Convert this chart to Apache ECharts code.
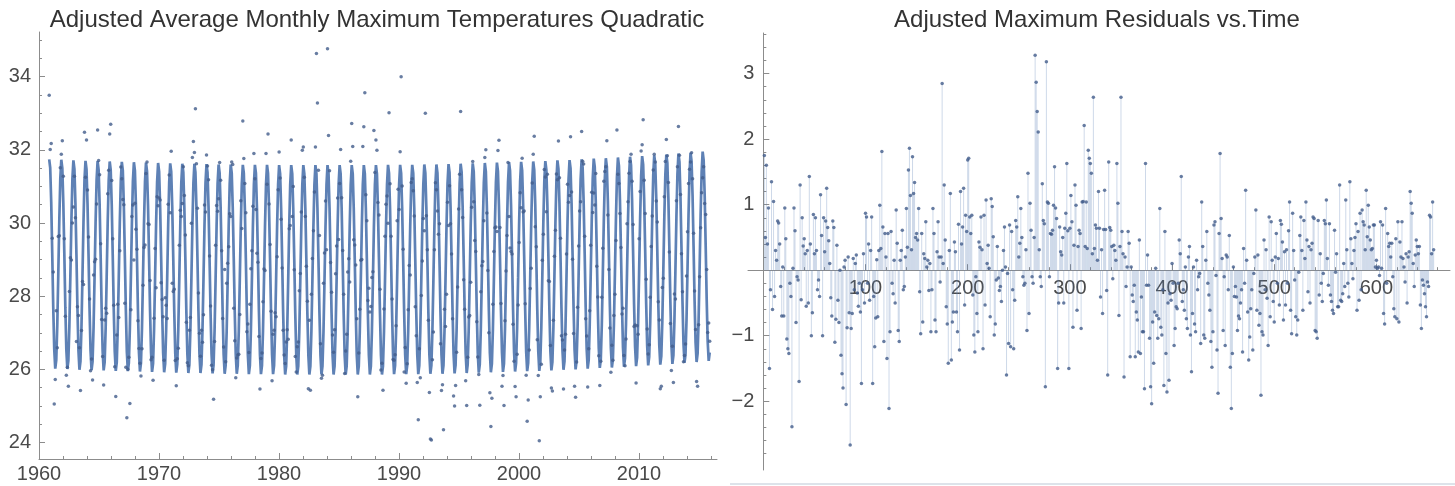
<!DOCTYPE html>
<html>
<head>
<meta charset="utf-8">
<script src="https://cdn.jsdelivr.net/npm/echarts@6.0.0/dist/echarts.min.js"></script>
<style>
html,body{margin:0;padding:0;background:#ffffff;}
#c{width:1455px;height:486px;}
</style>
</head>
<body>
<div id="c"></div>
<script>
// ---- residuals (month index 1..656) ----
const resid001to084 = [
1.75,0.5,1.6,0.4,0.95,-1.5,-0.3,1.35,-0.6,1.05,
-0.4,0.3,0.15,0.75,0.72,0.4,-0.25,-0.7,0.05,-0.7,
0.95,0.48,-1.05,-1.2,-1.27,-0.2,-0.4,-2.39,0.03,0.95,
0.6,-0.8,-0.1,-0.15,-1.7,1.3,-0.45,0.8,0.37,0.48,
0.25,-0.55,0.3,-0.5,1.43,0.4,-1.0,-0.65,0.85,0.25,
0.8,0.3,-0.3,-0.15,-0.4,1.15,0.53,-1.0,0.8,0.28,
0.75,1.25,0.65,0.45,0.1,-0.42,-0.7,0.75,0.65,-1.1,
-0.75,0.38,-0.46,-0.8,0.0,-1.3,-1.58,-1.8,0.05,0.15,
-2.05,-0.88,0.2,-0.65];
const resid085to200 = [
-2.67,-0.89,-0.66,0.18,-0.3,0.1,0.23,-0.35,-0.55,-0.2,
-0.64,-1.73,-0.3,0.25,-0.5,0.87,0.81,-0.2,0.4,-0.46,
0.3,0.81,-1.73,-0.4,-1.17,-0.73,0.16,-0.71,0.3,0.99,
0.33,1.81,0.66,-1.09,0.56,0.2,-1.35,0.56,-2.11,-0.94,
0.59,-0.2,-0.36,0.15,-0.5,0.92,0.41,-0.92,-1.09,0.15,
0.3,0.61,-0.3,-0.25,0.2,0.94,0.35,1.53,1.86,1.14,
0.31,1.73,1.17,1.34,0.5,0.56,0.46,0.94,-0.33,-0.97,
0.56,-0.79,0.25,0.18,0.74,0.05,0.15,-0.31,0.1,-0.94,
-0.3,0.94,0.56,-0.76,-0.94,0.28,0.74,0.2,-0.18,0.2,
2.85,0.1,1.3,0.46,-0.56,-0.82,-1.42,0.3,1.17,-1.37,
-0.79,-0.64,0.43,0.28,-0.64,-0.94,0.7,-1.22,1.2,0.4,
0.66,1.25,-0.53,0.84,0.59,1.68];
const resid201to315 = [
1.71,0.81,0.56,0.84,-0.38,-0.99,-1.25,-0.1,-0.66,-0.94,
0.43,0.35,0.81,0.31,-1.2,0.84,-0.53,1.07,0.1,0.38,
0.03,-0.71,1.09,0.97,0.51,-0.99,-0.82,-0.15,0.36,-0.12,
-0.31,-0.25,-0.48,0.0,0.3,0.66,0.05,-1.6,-0.05,-1.12,
0.69,-1.17,0.59,-0.3,-1.2,-0.46,0.76,0.66,1.12,0.2,
0.41,0.94,0.5,-0.1,-0.23,-0.2,0.31,-0.92,1.48,-0.66,
1.02,0.61,-0.1,-0.2,0.5,3.28,2.87,2.42,2.11,0.31,
-0.1,-0.25,1.32,0.76,0.71,-1.78,3.18,1.04,1.02,-0.1,
0.56,0.55,0.61,0.99,1.58,0.95,0.79,-1.5,-0.5,0.66,
0.28,0.23,0.5,-0.5,0.64,0.87,1.63,0.6,-1.5,0.64,
1.14,0.74,-0.87,0.38,1.3,0.99,-0.61,0.36,0.61,0.56,
-0.89,1.04,1.05,2.21,0.36];
const resid316to430 = [
1.04,0.33,1.83,1.71,1.63,1.48,0.25,2.64,0.33,0.69,
0.64,0.15,1.2,0.64,-0.41,0.31,-0.66,0.62,1.22,0.62,
-0.31,-1.6,1.65,0.65,0.61,0.36,-0.13,0.38,0.3,0.15,
1.63,1.02,-0.69,0.36,2.64,0.59,0.25,-1.63,0.2,-0.25,
0.05,0.59,0.41,-1.32,0.05,-0.38,-0.48,-0.23,-1.32,-0.64,
-0.76,-1.25,0.46,-1.27,-0.41,-0.94,-0.94,-1.81,1.63,-0.23,
0.23,-0.23,-1.04,-1.78,-2.04,-0.79,-1.42,-0.64,0.03,-0.69,
-1.04,-0.74,0.94,-0.87,-0.99,-0.3,-1.76,0.59,-1.27,-1.86,
-0.5,-1.68,-0.36,-0.46,0.1,-0.2,-1.15,-0.89,-0.56,-0.59,
-0.2,0.46,0.25,1.43,-0.48,-0.3,-0.61,0.05,-0.74,-0.89,
0.2,0.36,-0.99,-1.55,-0.66,0.05,-0.82,-0.94,0.15,-0.3,
-0.1,-0.05,-1.12,1.04,0.36];
const resid431to540 = [
-0.99,-1.04,0.15,0.59,-0.2,-0.38,-0.61,-1.09,-1.48,-0.94,
0.69,0.74,-0.08,-1.22,-1.88,0.56,1.78,0.79,0.18,-0.92,
-0.1,-1.15,0.23,0.2,-0.3,0.53,-1.48,-2.11,-1.27,0.05,
-0.4,-0.25,-0.41,-0.92,-0.7,-0.74,-0.5,-0.3,-1.25,0.33,
-0.2,1.22,0.15,-0.64,-1.37,-1.02,-0.59,-0.3,-1.22,-0.05,
0.2,0.92,-0.61,0.23,-0.84,-0.66,-1.91,-0.94,-0.99,0.46,
-0.3,0.31,-0.43,-1.15,0.81,-0.71,0.74,0.15,-0.48,-0.79,
0.2,0.56,-0.2,0.18,-0.53,0.76,0.7,0.43,-0.76,0.28,
-0.53,0.31,-0.2,0.6,1.04,-0.61,-0.97,0.87,0.3,-0.15,
-0.71,-0.99,-0.76,-0.03,0.53,0.81,0.3,-0.61,0.76,0.18,
1.04,0.46,-0.33,0.36,-0.5,0.31,0.41,0.81,0.79,-0.92];
const resid541to656 = [
-0.94,-1.04,0.76,-0.38,0.25,-0.2,-0.48,-0.05,0.76,0.71,
1.07,0.18,-0.23,0.71,-0.38,-0.48,-0.61,-0.66,0.61,-0.03,
0.25,-0.56,-0.56,1.3,-0.46,-0.48,-0.36,0.1,-0.25,1.07,
0.31,-0.2,-0.41,1.35,0.48,0.1,-0.13,0.3,0.5,0.71,
-0.61,0.59,-0.46,0.87,-0.3,0.92,0.74,0.69,0.31,1.22,
0.51,0.99,0.66,0.46,0.31,0.33,0.69,0.69,0.05,0.15,
0.03,0.05,-0.08,0.74,0.03,0.69,-0.66,-0.82,0.94,-0.2,
0.56,0.36,0.41,0.2,0.41,-0.1,-0.59,-0.71,0.48,-0.74,
0.74,-0.79,0.43,0.2,0.74,0.18,0.05,-0.18,0.25,-0.5,
0.2,0.28,1.2,1.02,0.87,0.1,-0.25,0.23,0.46,0.36,
0.25,0.36,-0.53,-0.89,-0.15,-0.23,-0.36,-0.56,-0.71,-0.18,
-0.25,0.84,0.81,0.25,1.04,0.31];

// ---- fitted curve: monthly profile + yearly shift ----
const seasonalFit = [31.71,31.48,30.54,29.15,27.68,26.52,25.99,26.22,27.16,28.55,30.02,31.18];
const yearShift = [
0.03,0.02,0.0,-0.01,-0.02,-0.03,-0.04,-0.05,-0.06,-0.07,
-0.08,-0.09,-0.09,-0.10,-0.11,-0.11,-0.12,-0.12,-0.12,-0.13,
-0.13,-0.13,-0.13,-0.13,-0.13,-0.13,-0.13,-0.13,-0.12,-0.12,
-0.12,-0.11,-0.11,-0.10,-0.09,-0.08,-0.07,-0.06,-0.05,-0.04,
-0.03,-0.02,0.0,0.01,0.03,0.05,0.06,0.08,0.10,0.12,
0.14,0.16,0.19,0.21,0.24];

// ---- tick labels ----
const leftXTicks = [1960,1970,1980,1990,2000,2010];
const leftYTicks = [24,26,28,30,32,34];
const rightXTicks = [100,200,300,400,500,600];
const rightYTicks = [-2,-1,1,2,3];

const titleLeft = 'Adjusted Average Monthly Maximum Temperatures Quadratic';
const titleRight = 'Adjusted Maximum Residuals vs.Time';

// ---- build ----
const residuals = [].concat(resid001to084, resid085to200, resid201to315, resid316to430, resid431to540, resid541to656);
const startYear = 1960.85;
const monthStep = 1 / 11.9;
const fitValues = residuals.map((r, i) => +(seasonalFit[i % 12] + yearShift[Math.floor(i / 12)]).toFixed(3));
const temps = residuals.map((r, i) => +(fitValues[i] + r).toFixed(3));
const years = residuals.map((r, i) => startYear + i * monthStep);
const monthIdx = residuals.map((r, i) => i + 1);

function range(a, b, step, skipEvery) {
  const out = [];
  for (let v = a; v <= b + 1e-9; v += step) {
    const rv = Math.round(v * 1000) / 1000;
    if (skipEvery && Math.abs(rv / skipEvery - Math.round(rv / skipEvery)) < 1e-6) continue;
    out.push(rv);
  }
  return out;
}
const leftXMinor = range(1962, 2016, 2, 10);
const leftYMinor = range(24, 35, 0.5, 2);
const rightXMinor = range(20, 660, 20, 100);
const rightYMinor = range(-3, 3.6, 0.2, 1);

const axisGray = '#8c8c8c';
const labelGray = '#4a4a4a';
const fontFam = '"Liberation Sans", Arial, sans-serif';
const curveBlue = '#5e81b5';
const dotBlue = '#425d8b';

function fmt(v) { return v < 0 ? '\u2212' + Math.abs(v) : String(v); }

function majorAxis(grid, min, max, ticks, margin, extra) {
  return Object.assign({
    gridIndex: grid, type: 'value', min: min, max: max,
    axisLine: { show: true, onZero: false, lineStyle: { color: axisGray, width: 1 } },
    axisTick: { show: true, inside: true, length: 6, customValues: ticks, lineStyle: { color: axisGray } },
    axisLabel: { show: true, customValues: ticks, color: labelGray, fontSize: 20, fontFamily: fontFam, margin: margin, formatter: fmt },
    splitLine: { show: false }
  }, extra || {});
}
function minorAxis(grid, min, max, ticks, extra) {
  return Object.assign({
    gridIndex: grid, type: 'value', min: min, max: max,
    axisLine: { show: false, onZero: false },
    axisTick: { show: true, inside: true, length: 3, customValues: ticks, lineStyle: { color: axisGray } },
    axisLabel: { show: false },
    splitLine: { show: false }
  }, extra || {});
}

const L = { xMin: 1960, xMax: 2016.5, yMin: 23.55, yMax: 35.22 };
const R = { xMin: -15, xMax: 672, yMin: -3.05, yMax: 3.62 };
const gridL = { left: 39, top: 32, width: 678, height: 427 };
const gridR = { left: 748, top: 33, width: 702, height: 437 };
// the right panel's axes cross at the origin: shift them in from the grid edges
const rXOffset = -gridR.height * (0 - R.yMin) / (R.yMax - R.yMin);
const rYOffset = -gridR.width * (0 - R.xMin) / (R.xMax - R.xMin);

const option = {
  animation: false,
  backgroundColor: '#ffffff',
  grid: [
    Object.assign({ containLabel: false, outerBoundsMode: 'none' }, gridL),
    Object.assign({ containLabel: false, outerBoundsMode: 'none' }, gridR)
  ],
  xAxis: [
    majorAxis(0, L.xMin, L.xMax, leftXTicks, 5, { position: 'bottom' }),
    minorAxis(0, L.xMin, L.xMax, leftXMinor, { position: 'bottom' }),
    majorAxis(1, R.xMin, R.xMax, rightXTicks, 8, { position: 'bottom', offset: rXOffset }),
    minorAxis(1, R.xMin, R.xMax, rightXMinor, { position: 'bottom', offset: rXOffset })
  ],
  yAxis: [
    majorAxis(0, L.yMin, L.yMax, leftYTicks, 8, { position: 'left' }),
    minorAxis(0, L.yMin, L.yMax, leftYMinor, { position: 'left' }),
    majorAxis(1, R.yMin, R.yMax, rightYTicks, 9, { position: 'left', offset: rYOffset }),
    minorAxis(1, R.yMin, R.yMax, rightYMinor, { position: 'left', offset: rYOffset })
  ],
  graphic: [
    { type: 'text', x: 377, y: 20, silent: true,
      style: { text: titleLeft, fill: '#333333', font: '24px ' + fontFam, textAlign: 'center', textVerticalAlign: 'middle' } },
    { type: 'text', x: 1097, y: 20, silent: true,
      style: { text: titleRight, fill: '#333333', font: '24px ' + fontFam, textAlign: 'center', textVerticalAlign: 'middle' } },
    { type: 'rect', silent: true, shape: { x: 730, y: 483, width: 725, height: 2 }, style: { fill: '#dde3ea' } }
  ],
  series: [
    { type: 'line', xAxisIndex: 0, yAxisIndex: 0, silent: true, symbol: 'none', showSymbol: false,
      data: years.map((x, i) => [x, fitValues[i]]),
      lineStyle: { color: curveBlue, width: 2.7 }, z: 2 },
    { type: 'scatter', xAxisIndex: 0, yAxisIndex: 0, silent: true,
      data: years.map((x, i) => [x, temps[i]]),
      symbolSize: 3.5, itemStyle: { color: dotBlue }, z: 3 },
    { type: 'bar', xAxisIndex: 2, yAxisIndex: 2, silent: true, barWidth: 1,
      data: monthIdx.map((t, i) => [t, residuals[i]]),
      itemStyle: { color: 'rgba(94,129,181,0.3)' }, z: 2 },
    { type: 'scatter', xAxisIndex: 2, yAxisIndex: 2, silent: true,
      data: monthIdx.map((t, i) => [t, residuals[i]]),
      symbolSize: 3.5, itemStyle: { color: dotBlue }, z: 3 }
  ]
};

const chart = echarts.init(document.getElementById('c'), null, { renderer: 'canvas' });
chart.setOption(option);
</script>
</body>
</html>
